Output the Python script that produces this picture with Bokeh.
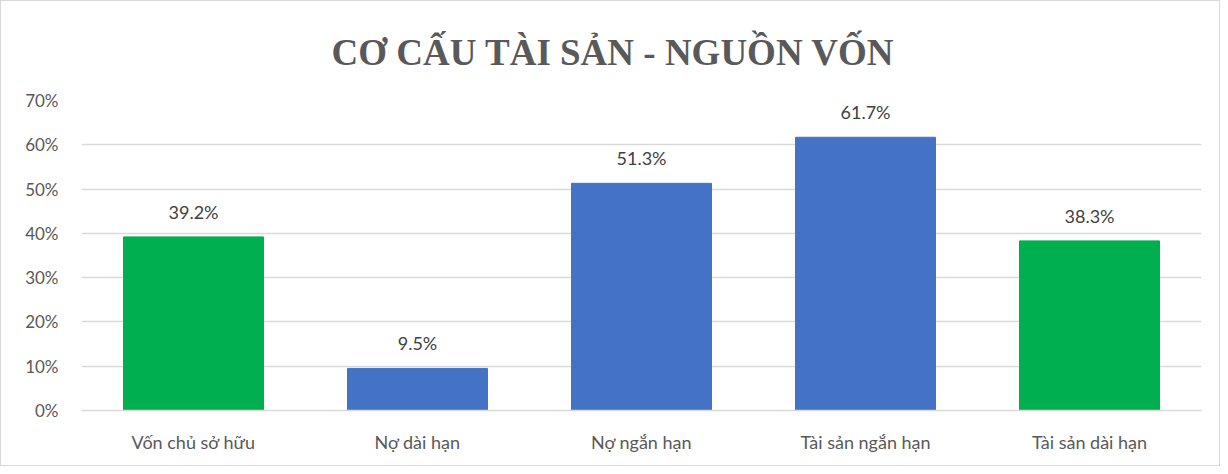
from bokeh.plotting import figure
from bokeh.models import ColumnDataSource, LabelSet, NumeralTickFormatter, FixedTicker, Range1d
from bokeh.core.properties import value
from bokeh.embed import file_html
from bokeh.resources import INLINE

categories = ["Vốn chủ sở hữu", "Nợ dài hạn", "Nợ ngắn hạn", "Tài sản ngắn hạn", "Tài sản dài hạn"]
values = [0.392, 0.095, 0.513, 0.617, 0.383]
colors = ["#00B050", "#4472C4", "#4472C4", "#4472C4", "#00B050"]
labels = ["39.2%", "9.5%", "51.3%", "61.7%", "38.3%"]
y_ticks = [0, 0.1, 0.2, 0.3, 0.4, 0.5, 0.6, 0.7]

src = ColumnDataSource(dict(cat=categories, val=values, color=colors, lab=labels))

p = figure(x_range=categories, y_range=Range1d(0, 0.7), width=1220, height=466,
           output_backend="svg", toolbar_location=None,
           title="CƠ CẤU TÀI SẢN - NGUỒN VỐN",
           min_border_left=80, min_border_right=20, min_border_bottom=57, min_border_top=97)
p.styles = {"border": "1px solid #d9d9d9"}
p.title.align = "left"
p.title.offset = 250
p.title.text_font = "Liberation Serif"
p.title.text_font_size = "37px"
p.title.text_font_style = "bold"
p.title.text_color = "#595959"
p.title.standoff = 56

p.vbar(x="cat", top="val", width=0.625, color="color", source=src)

p.add_layout(LabelSet(x="cat", y="val", text="lab", source=src, text_align="center",
                      text_baseline="bottom", y_offset=14, text_font=value("Lato"),
                      text_font_size="18px", text_color="#404040"))

p.x_range.range_padding = 0
p.outline_line_color = None
p.xgrid.grid_line_color = None
p.ygrid.grid_line_color = "#d9d9d9"
p.ygrid.grid_line_width = 1.3
p.yaxis.ticker = FixedTicker(ticks=y_ticks)
p.yaxis.formatter = NumeralTickFormatter(format="0%")
for ax in (p.xaxis, p.yaxis):
    ax.major_tick_line_color = None
    ax.minor_tick_line_color = None
    ax.major_label_text_color = "#595959"
    ax.major_label_text_font = "Lato"
p.yaxis.axis_line_color = None
p.xaxis.axis_line_color = "#d9d9d9"
p.xaxis.axis_line_width = 1.3
p.yaxis.major_label_text_font_size = "17px"
p.xaxis.major_label_text_font_size = "18px"
p.xaxis.major_label_standoff = 14
p.yaxis.major_label_standoff = 17
p.background_fill_color = "white"
p.border_fill_color = "white"

open("out.html", "w").write(file_html(p, INLINE))
